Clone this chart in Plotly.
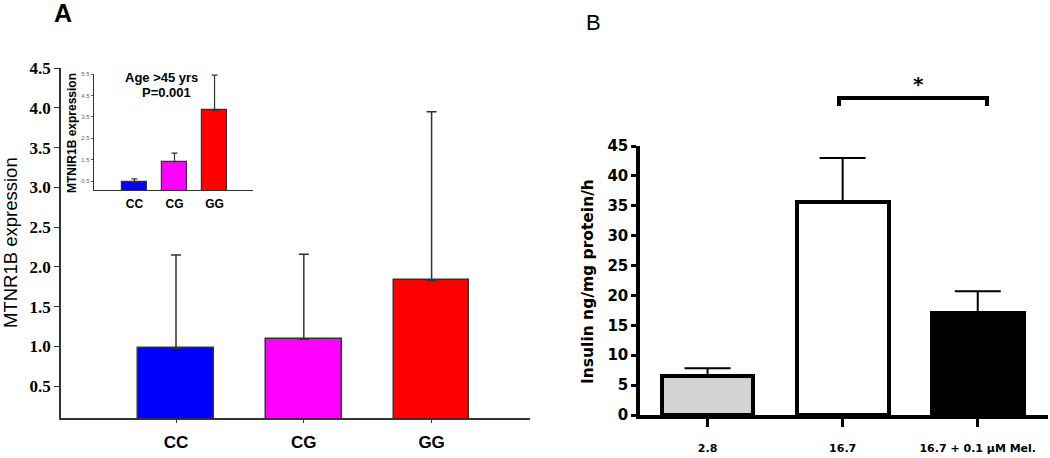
import plotly.graph_objects as go

W, H = 1050, 458

# ---------- data ----------
genotypes = ["CC", "CG", "GG"]
expr_all = [0.98, 1.09, 1.83]
expr_all_err = [1.17, 1.07, 2.12]

expr_old = [0.45, 1.40, 3.80]
expr_old_err = [0.15, 0.40, 1.65]

glucose = ["2.8", "16.7", "16.7 + 0.1 µM Mel."]
insulin = [6.5, 35.6, 17.0]
insulin_err = [1.3, 7.4, 3.7]

a_tick_start, a_tick_step = 0.5, 0.5
inset_tick_start, inset_tick_step = 0.5, 1.0
b_tick_start, b_tick_step = 0, 5


def px(x):
    return x / W


def py(y):
    return 1 - y / H


fig = go.Figure()

# Panel A main
fig.add_trace(go.Bar(
    x=genotypes, y=expr_all, xaxis="x", yaxis="y", width=0.59,
    marker=dict(color=["#0000FF", "#FF00FF", "#FF0000"],
                line=dict(color="#333333", width=1.5)),
    error_y=dict(type="data", array=expr_all_err, arrayminus=[0, 0, 0],
                 symmetric=False, color="#333333", thickness=1.5, width=5),
    showlegend=False, hoverinfo="skip"))

# Panel A inset
fig.add_trace(go.Bar(
    x=genotypes, y=expr_old, xaxis="x2", yaxis="y2", width=0.63,
    marker=dict(color=["#0000FF", "#FF00FF", "#FF0000"],
                line=dict(color="#333333", width=1.2)),
    error_y=dict(type="data", array=expr_old_err, arrayminus=[0, 0, 0],
                 symmetric=False, color="#333333", thickness=1.2, width=3),
    showlegend=False, hoverinfo="skip"))

# Panel B
fig.add_trace(go.Bar(
    x=glucose, y=insulin, xaxis="x3", yaxis="y3", width=0.68,
    marker=dict(color=["#D3D3D3", "#FFFFFF", "#000000"],
                line=dict(color="#000000", width=4)),
    error_y=dict(type="data", array=insulin_err, arrayminus=[0, 0, 0],
                 symmetric=False, color="#000000", thickness=2, width=23),
    showlegend=False, hoverinfo="skip"))

common = dict(showgrid=False, zeroline=False, automargin=False)

fig.update_layout(
    template="none",
    width=W, height=H,
    margin=dict(l=0, r=0, t=0, b=0, pad=0),
    paper_bgcolor="white", plot_bgcolor="rgba(0,0,0,0)",
    bargap=0,
    xaxis=dict(type="category", domain=[px(61), px(530)], range=[-0.9, 2.77], anchor="y",
               showline=True, linecolor="#333333", linewidth=1.5,
               ticks="outside", ticklen=3, tickcolor="#333333", tickwidth=1.2,
               ticklabelstandoff=5,
               tickfont=dict(family="Arial", size=17, color="black", weight="bold"),
               **common),
    yaxis=dict(domain=[py(418), py(68)], range=[0.1, 4.5], anchor="x",
               showline=True, linecolor="#333333", linewidth=1.5,
               ticks="outside", ticklen=5, tickcolor="#333333", tickwidth=1.2,
               tickmode="linear", tick0=a_tick_start, dtick=a_tick_step, tickformat=".1f",
               tickfont=dict(family="Liberation Serif", size=17, color="black", weight="bold"),
               **common),
    xaxis2=dict(type="category", domain=[px(94), px(253)], range=[-1.01, 2.96], anchor="y2",
                showline=True, linecolor="#333333", linewidth=1.2,
                ticks="", ticklabelstandoff=2,
                tickfont=dict(family="Arial", size=12, color="black", weight="bold"),
                **common),
    yaxis2=dict(domain=[py(190), py(74)], range=[0.08, 5.5], anchor="x2",
                showline=True, linecolor="#333333", linewidth=1.2,
                ticks="outside", ticklen=2, tickcolor="#555555", tickwidth=1,
                tickmode="linear", tick0=inset_tick_start, dtick=inset_tick_step, tickformat=".1f",
                tickfont=dict(family="Arial", size=6, color="#666666"),
                **common),
    xaxis3=dict(type="category", domain=[px(640), px(1048)], range=[-0.5, 2.52], anchor="y3",
                showline=True, linecolor="black", linewidth=3.5,
                ticks="outside", ticklen=8, tickcolor="black", tickwidth=3,
                ticklabelstandoff=12,
                tickfont=dict(family="DejaVu Sans", size=11, color="black", weight="bold"),
                **common),
    yaxis3=dict(domain=[py(415), py(146)], range=[0, 45], anchor="x3",
                showline=True, linecolor="black", linewidth=3.5,
                ticks="outside", ticklen=5, tickcolor="black", tickwidth=3,
                tickmode="linear", tick0=b_tick_start, dtick=b_tick_step,
                tickfont=dict(family="DejaVu Sans", size=15, color="black", weight="bold"),
                **common),
)

ann = [
    dict(text="A", x=px(63), y=py(13), font=dict(family="Arial", size=25, color="black", weight="bold")),
    dict(text="B", x=px(593), y=py(22), font=dict(family="Arial", size=22, color="black")),
    dict(text="MTNR1B expression", x=px(11), y=py(243), textangle=-90,
         font=dict(family="Arial", size=18.5, color="black")),
    dict(text="MTNIR1B expression", x=px(72), y=py(133), textangle=-90,
         font=dict(family="Arial", size=12, color="black", weight="bold")),
    dict(text="Age >45 yrs", x=px(161), y=py(77),
         font=dict(family="Arial", size=13, color="black", weight="bold")),
    dict(text="P=0.001", x=px(166), y=py(92),
         font=dict(family="Arial", size=13, color="black", weight="bold")),
    dict(text="Insulin ng/mg protein/h", x=px(588), y=py(282), textangle=-90,
         font=dict(family="DejaVu Sans", size=15.5, color="black", weight="bold")),
    dict(text="*", x=px(918), y=py(84),
         font=dict(family="DejaVu Sans", size=20, color="black", weight="bold")),
]
for a in ann:
    a.update(xref="paper", yref="paper", showarrow=False, xanchor="center", yanchor="middle")
    fig.add_annotation(**a)

# significance bracket between the 16.7 bars
fig.add_shape(type="path", xref="paper", yref="paper",
              path=f"M {px(839)} {py(106)} L {px(839)} {py(98)} L {px(987)} {py(98)} L {px(987)} {py(106)}",
              line=dict(color="black", width=4))

fig.write_html("out.html", config={"displayModeBar": False},
               post_script="document.body.style.margin='0';document.body.style.overflow='hidden';")
